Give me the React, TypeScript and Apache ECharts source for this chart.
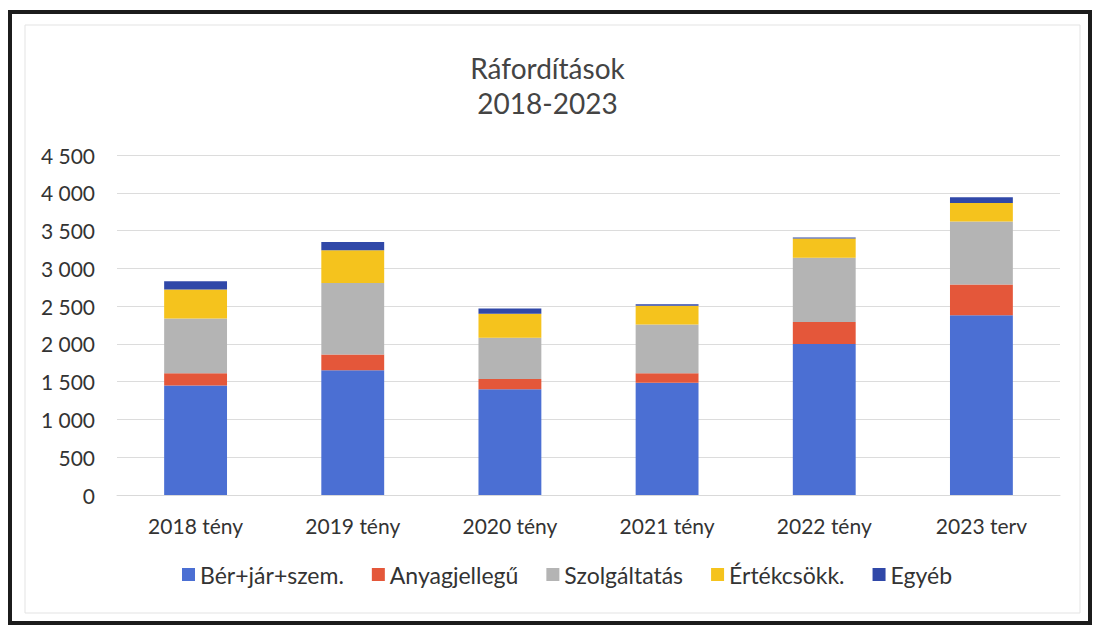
import React, { useEffect, useRef } from "react";
import * as echarts from "echarts";

const categories = ["2018 tény", "2019 tény", "2020 tény", "2021 tény", "2022 tény", "2023 terv"];
const berJarSzem = [1450, 1650, 1400, 1485, 2000, 2380];
const anyagjellegu = [160, 210, 135, 125, 290, 405];
const szolgaltatas = [725, 945, 545, 645, 850, 835];
const ertekcsokk = [385, 435, 320, 250, 255, 245];
const egyeb = [110, 110, 67, 20, 14, 75];

const seriesNames = ["Bér+jár+szem.", "Anyagjellegű", "Szolgáltatás", "Értékcsökk.", "Egyéb"];
const seriesData = [berJarSzem, anyagjellegu, szolgaltatas, ertekcsokk, egyeb];
const colors = ["#4B6FD3", "#E4573A", "#B4B4B4", "#F5C31D", "#3048A8"];

const yMin = 0;
const yMax = 4500;
const yStep = 500;

const FONT = "Lato, 'Open Sans', sans-serif";
const TEXT = "#333333";

export default function App() {
  const ref = useRef<HTMLDivElement>(null);

  useEffect(() => {
    if (!ref.current) return;
    const chart = echarts.init(ref.current, undefined, { renderer: "svg" });
    chart.setOption({
      animation: false,
      backgroundColor: "#ffffff",
      color: colors,
      title: {
        text: "Ráfordítások\n2018-2023",
        left: "center",
        top: 45,
        textStyle: {
          fontFamily: FONT,
          fontSize: 28,
          fontWeight: "normal",
          color: "#444444",
          lineHeight: 35,
        },
      },
      legend: {
        bottom: 38,
        left: 177,
        icon: "rect",
        itemWidth: 13,
        itemHeight: 13,
        itemGap: 28,
        textStyle: { fontFamily: FONT, fontSize: 23, color: TEXT },
        data: seriesNames,
      },
      grid: { left: 117, right: 35, top: 155, bottom: 134, containLabel: false },
      xAxis: {
        type: "category",
        data: categories,
        axisTick: { show: false },
        axisLine: { lineStyle: { color: "#d9d9d9" } },
        axisLabel: { fontFamily: FONT, fontSize: 21, color: TEXT, margin: 20 },
      },
      yAxis: {
        type: "value",
        min: yMin,
        max: yMax,
        interval: yStep,
        axisLine: { show: false },
        axisTick: { show: false },
        splitLine: { lineStyle: { color: "#dcdcdc", width: 1 } },
        axisLabel: {
          fontFamily: FONT,
          fontSize: 21,
          color: TEXT,
          margin: 22,
          formatter: (v: number) => String(v).replace(/\B(?=(\d{3})+(?!\d))/g, " "),
        },
      },
      series: seriesNames.map((name, i) => ({
        name,
        type: "bar",
        stack: "total",
        barWidth: "40%",
        data: seriesData[i],
        itemStyle: { color: colors[i] },
      })),
      graphic: [
        {
          type: "rect",
          shape: { x: 25, y: 25, width: 1055, height: 588 },
          style: { fill: "none", stroke: "#e3e3e3", lineWidth: 1 },
          silent: true,
        },
        {
          type: "rect",
          shape: { x: 10, y: 12, width: 1080, height: 611 },
          style: { fill: "none", stroke: "#1c1c1c", lineWidth: 4 },
          silent: true,
        },
      ],
    });
    return () => chart.dispose();
  }, []);

  return (
    <div
      ref={ref}
      style={{ position: "fixed", left: 0, top: 0, width: 1095, height: 629 }}
    />
  );
}
